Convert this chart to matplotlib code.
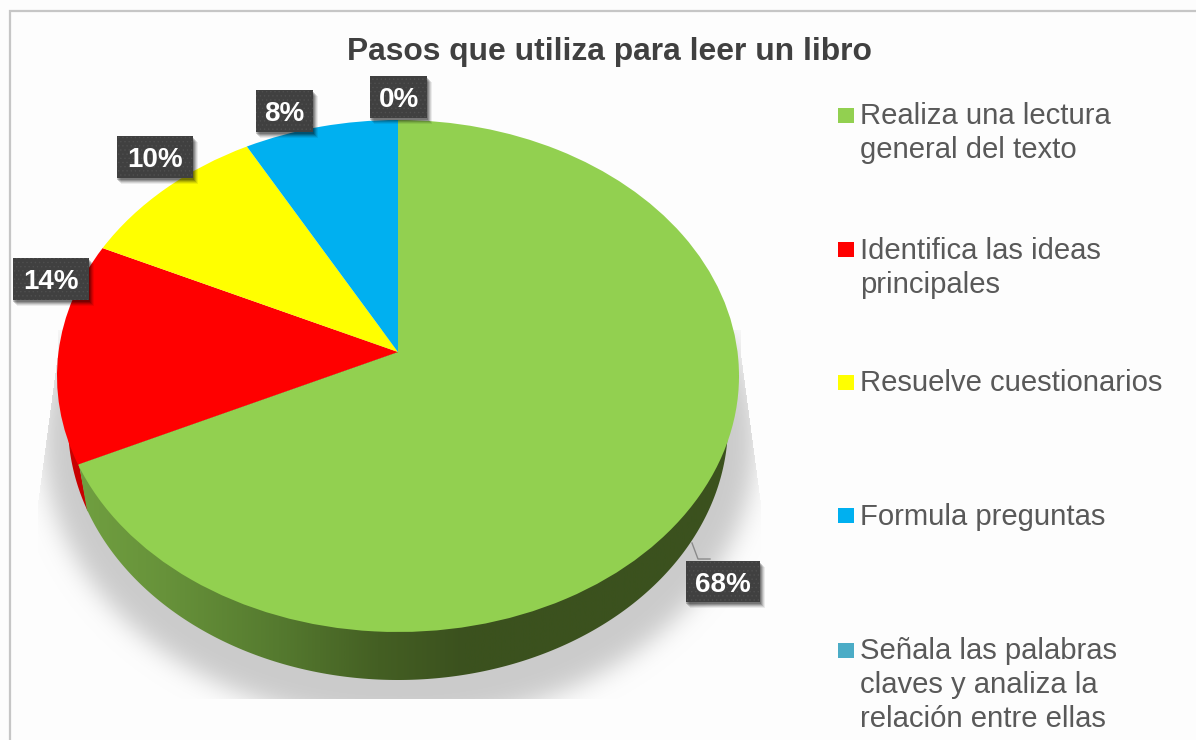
import numpy as np
import matplotlib
matplotlib.use("Agg")
import matplotlib.pyplot as plt
from matplotlib.patches import Polygon, Rectangle
from matplotlib.transforms import Transform
from matplotlib.colors import LinearSegmentedColormap

TITLE = "Pasos que utiliza para leer un libro"
categories = ["Realiza una lectura\ngeneral del texto", "Identifica las ideas\nprincipales",
              "Resuelve cuestionarios", "Formula preguntas",
              "Señala las palabras\nclaves y analiza la\nrelación entre ellas"]
shares = [68, 14, 10, 8, 0]
colors = ["#92d050", "#ff0000", "#ffff00", "#00b0f0", "#4bacc6"]

# label boxes (pixel layout): left, top, right, bottom
label_boxes = [(686, 561, 760, 602), (13, 258, 89, 300), (117, 136, 193, 178),
               (256, 90, 313, 132), (370, 76, 427, 118)]
legend_swatch_y = [115, 249.5, 382.5, 515, 650]
legend_text_y = [133, 268, 383, 517, 685]

W, H = 1196, 740
CX, CY0 = 398.0, 352.0
PA, PB, PC = 339.5, 253.75, 0.09375
LOW_CY, LOW_RX, LOW_RY = 424.0, 330.0, 256.0
BG = "#fdfdfd"


class Perspective(Transform):
    input_dims = output_dims = 2
    is_separable = False
    has_inverse = False

    def transform_non_affine(self, values):
        v = np.asarray(values, float)
        d = 1 + PC * v[:, 1]
        return np.column_stack([CX + PA * v[:, 0] / d, CY0 - PB * v[:, 1] / d])


def blur(a, sigma):
    r = int(3 * sigma)
    k = np.exp(-0.5 * (np.arange(-r, r + 1) / sigma) ** 2)
    k /= k.sum()
    a = np.apply_along_axis(lambda m: np.convolve(m, k, mode="same"), 0, a)
    return np.apply_along_axis(lambda m: np.convolve(m, k, mode="same"), 1, a)


fig = plt.figure(figsize=(W / 100, H / 100), dpi=100, facecolor=BG)
ax = fig.add_axes([0, 0, 1, 1])
plt.rcParams["font.family"] = ["Liberation Sans", "DejaVu Sans"]
plt.rcParams["hatch.linewidth"] = 0.5

wedges, _ = ax.pie(shares, colors=colors, startangle=90, counterclock=False,
                   wedgeprops={"linewidth": 0}, frame=False)
persp = Perspective() + ax.transData
for w in wedges:
    w.set_transform(persp)
    w.set_zorder(5)
    w.set_clip_on(False)

# soft shadow under the pie
yy, xx = np.mgrid[330:790, 0:W]
mask = (((xx - 399) / 356.0) ** 2 + ((yy - 440) / 282.0) ** 2 < 1).astype(float)
alpha = blur(mask, 12)
alpha[(xx > 760) | (yy > 698)] = 0
# the shadow tapers towards the rim of the pie on both sides
reach = np.clip((yy - 350) / 150.0, 0, 1) * 20
alpha[xx < 58 - reach] = 0
alpha[xx > 740 + reach] = 0
rgba = np.zeros(alpha.shape + (4,))
rgba[..., :3] = 0xcb / 255
rgba[..., 3] = alpha
ax.imshow(rgba, extent=(0, W, 790, 330), aspect="auto", zorder=1, interpolation="bilinear")

# side wall
t = np.radians(np.linspace(0, 360, 721))
lowx = CX + LOW_RX * np.cos(t)
lowy = LOW_CY + LOW_RY * np.sin(t)
split_low = (87.0, 510.4)
split_top = (79.0, 464.0)
sel = (lowy > 424) & (lowx >= split_low[0])
order = np.argsort(-lowx[sel])
gx, gy = lowx[sel][order], lowy[sel][order]
green_poly = np.vstack([[739, 375], np.column_stack([gx, gy]), split_low, split_top, [398, 352]])
red_sel = (lowx < split_low[0] + 1) & (lowy > 395)
rx, ry = lowx[red_sel], lowy[red_sel]
o = np.argsort(ry)
red_poly = np.vstack([np.column_stack([rx[o], ry[o]]), split_top, [200, 400]])
ax.add_patch(Polygon(red_poly, closed=True, fc="#c80000", ec="none", zorder=2))

stops = [(0.0, "#709f40"), (0.13, "#67923a"), (0.30, "#557a2f"), (0.45, "#445f23"),
         (0.58, "#3b511e"), (1.0, "#3b521e")]
cmap = LinearSegmentedColormap.from_list("wall", stops)
im = ax.imshow(np.linspace(0, 1, 700)[None, :], cmap=cmap, vmin=0, vmax=1,
               extent=(78, 745, 700, 340), aspect="auto", zorder=3)
clip = Polygon(green_poly, closed=True, fc="none", ec="none", transform=ax.transData)
ax.add_patch(clip)
im.set_clip_path(clip)

ax.set_xlim(0, W)
ax.set_ylim(H, 0)
ax.set_aspect("auto")
ax.set_xticks([])
ax.set_yticks([])
ax.set_frame_on(False)

# frame of the screenshot
ax.plot([10, 10, W], [H, 11, 11], color="#c6c6c6", lw=1.6, zorder=1, solid_joinstyle="miter")

# title
ax.text(609.5, 52, TITLE, ha="center", va="center", fontsize=22.9, fontweight="bold",
        color="#404040", family=["Liberation Sans", "DejaVu Sans"], zorder=10)

# leader line for the largest slice
ax.plot([692, 698, 710], [543, 559, 559], color="#8a8a8a", lw=1.0, zorder=6)

# data labels
for value, (l, t_, r, b) in zip(shares, label_boxes):
    for off, a in ((6, 0.07), (5, 0.10), (4, 0.14), (3, 0.18), (2, 0.20)):
        ax.add_patch(Rectangle((l + off - 2, t_ + off), r - l + 1, b - t_, fc="#000000", ec="none",
                               alpha=a, zorder=7))
    ax.add_patch(Rectangle((l, t_), r - l, b - t_, fc="#404040", ec="#4f4f4f", lw=0,
                           hatch="....", zorder=8))
    ax.text((l + r) / 2, (t_ + b) / 2 + 3, f"{value}%", ha="center", va="center", color="white",
            fontsize=20, fontweight="bold", family=["Liberation Sans", "DejaVu Sans"], zorder=9)

# legend
for name, col, sy, ty in zip(categories, colors, legend_swatch_y, legend_text_y):
    ax.add_patch(Rectangle((838, sy - 7.5), 16, 15, fc=col, ec="none", zorder=8))
    ax.text(860, ty, name, ha="left", va="center", fontsize=21.1, color="#595959",
            linespacing=1.26, family=["Liberation Sans", "DejaVu Sans"], zorder=9)

fig.savefig("out.png", dpi=100, facecolor=BG)
